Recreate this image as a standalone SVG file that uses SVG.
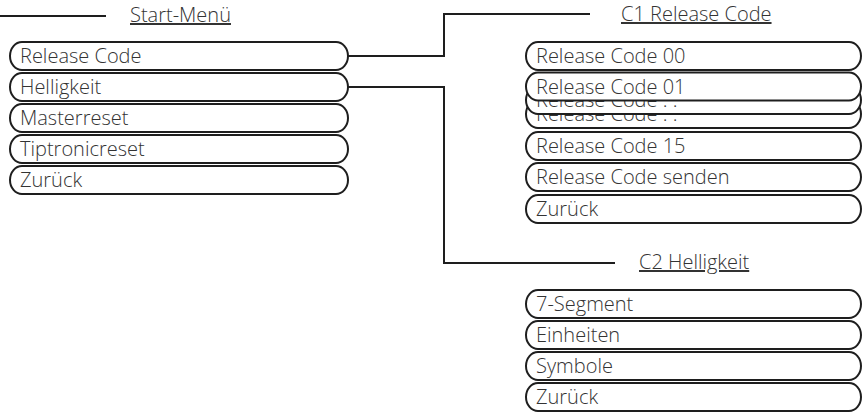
<svg xmlns="http://www.w3.org/2000/svg" width="862" height="414" viewBox="0 0 862 414">
<style>
.pill{fill:#fff;stroke:#1e1e1e;stroke-width:2}
.t{font-family:"Open Sans","Liberation Sans",sans-serif;font-weight:300;font-size:20px;fill:#333}
.h{font-family:"Open Sans","Liberation Sans",sans-serif;font-weight:300;font-size:20px;fill:#333;text-decoration:underline}
.c{fill:none;stroke:#1e1e1e;stroke-width:2}
</style>
<rect width="862" height="414" fill="#fff"/>
<g id="connectors">
<line class="c" x1="0" y1="16" x2="106" y2="16"/>
<polyline class="c" points="348,56 444,56 444,14 590,14"/>
<polyline class="c" points="348,87 444,87 444,263 615,263"/>
</g>
<g id="start-menu">
<text class="h" x="130" y="22">Start-Menü</text>
<g id="m-release"><rect class="pill" x="10" y="42" width="338" height="28" rx="12" ry="14"/><text class="t" x="20" y="63">Release Code</text></g>
<g id="m-hell"><rect class="pill" x="10" y="73" width="338" height="28" rx="12" ry="14"/><text class="t" x="20" y="94">Helligkeit</text></g>
<g id="m-master"><rect class="pill" x="10" y="104" width="338" height="28" rx="12" ry="14"/><text class="t" x="20" y="125">Masterreset</text></g>
<g id="m-tip"><rect class="pill" x="10" y="135" width="338" height="28" rx="12" ry="14"/><text class="t" x="20" y="156">Tiptronicreset</text></g>
<g id="m-zur"><rect class="pill" x="10" y="166" width="338" height="28" rx="12" ry="14"/><text class="t" x="20" y="187">Zurück</text></g>
</g>
<g id="c1">
<text class="h" x="621" y="21">C1 Release Code</text>
<g id="c1-00"><rect class="pill" x="526" y="42" width="335" height="28" rx="12" ry="14"/><text class="t" x="536" y="63">Release Code 00</text></g>
<g id="c1-dots2"><rect class="pill" x="526" y="100" width="335" height="28" rx="12" ry="14"/><text class="t" x="536" y="121">Release Code . .</text></g>
<g id="c1-dots1"><rect class="pill" x="526" y="86" width="335" height="28" rx="12" ry="14"/><text class="t" x="536" y="107">Release Code . .</text></g>
<g id="c1-01"><rect class="pill" x="526" y="72.5" width="335" height="28" rx="12" ry="14"/><text class="t" x="536" y="93.5">Release Code 01</text></g>
<g id="c1-15"><rect class="pill" x="526" y="132" width="335" height="28" rx="12" ry="14"/><text class="t" x="536" y="153">Release Code 15</text></g>
<g id="c1-send"><rect class="pill" x="526" y="163" width="335" height="28" rx="12" ry="14"/><text class="t" x="536" y="184">Release Code senden</text></g>
<g id="c1-zur"><rect class="pill" x="526" y="195" width="335" height="28" rx="12" ry="14"/><text class="t" x="536" y="216">Zurück</text></g>
</g>
<g id="c2">
<text class="h" x="639" y="269">C2 Helligkeit</text>
<g id="c2-seg"><rect class="pill" x="526" y="290" width="335" height="28" rx="12" ry="14"/><text class="t" x="536" y="311">7-Segment</text></g>
<g id="c2-ein"><rect class="pill" x="526" y="321" width="335" height="28" rx="12" ry="14"/><text class="t" x="536" y="342">Einheiten</text></g>
<g id="c2-sym"><rect class="pill" x="526" y="352" width="335" height="28" rx="12" ry="14"/><text class="t" x="536" y="373">Symbole</text></g>
<g id="c2-zur"><rect class="pill" x="526" y="383" width="335" height="28" rx="12" ry="14"/><text class="t" x="536" y="404">Zurück</text></g>
</g>
</svg>
